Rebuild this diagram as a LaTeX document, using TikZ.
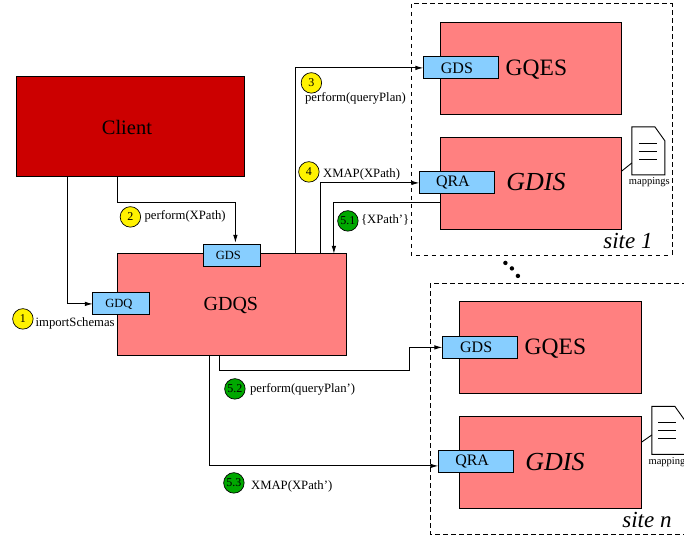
\documentclass[tikz,border=0pt]{standalone}
\usepackage{fontspec}
\setmainfont{Liberation Serif}
\usetikzlibrary{arrows.meta,calc}
\definecolor{clientred}{HTML}{CC0000}
\definecolor{srvred}{HTML}{FF8080}
\definecolor{portblue}{HTML}{87CEFF}
\definecolor{stepgreen}{HTML}{00A800}
\newcommand{\fs}[1]{\fontsize{#1}{#1}\selectfont}
\newcommand{\lft}{\hspace*{-8pt}}
\newcommand{\bd}[1]{\raisebox{-1pt}{#1}}
\tikzset{
  box/.style={draw=black,line width=0.9pt,inner sep=0,outer sep=0,anchor=north west},
  service/.style={box,fill=srvred},
  port/.style={box,fill=portblue,line width=1pt,font=\fs{16}},
  smallport/.style={port,font=\fs{12.5}},
  sitebox/.style={draw=black,line width=0.8pt,dash pattern=on 4.5pt off 3.5pt},
  conn/.style={draw=black,line width=0.9pt},
  arr/.style={conn,-{Latex[length=8pt,width=4.5pt]}},
  badge/.style={circle,draw=black,line width=0.7pt,minimum size=20.5pt,inner sep=0,font=\fs{12}},
  yellowbadge/.style={badge,fill=yellow},
  greenbadge/.style={badge,fill=stepgreen},
  lbl/.style={anchor=west,inner sep=0,font=\fs{12.7}},
  bigtxt/.style={inner sep=0,font=\fs{23.5}},
  bigit/.style={inner sep=0,font=\fs{26}\itshape},
  sitetxt/.style={inner sep=0,font=\fs{23}\itshape},
  doc/.style={draw=black,line width=0.9pt,fill=white},
  docline/.style={draw=black,line width=0.8pt},
}
\newcommand{\rbox}[7]{\node[#1,minimum width=#5pt,minimum height=#6pt] (#2) at (#3,#4) {#7};}
\begin{document}
\begin{tikzpicture}[x=1pt,y=-1pt]
\useasboundingbox (0.1,0.1) rectangle (684.1,535.1);
\begin{scope}
\clip (0.1,0.1) rectangle (684.1,535.1);
% site frames
\draw[sitebox] (411,4) rectangle (672,255);
\draw[sitebox] (430,283.5) rectangle (700,534);
% services
\rbox{box,fill=clientred}{client}{17}{77}{228}{100}{}
\rbox{service}{gdqs}{118}{254}{229}{102}{}
\rbox{service}{gqesa}{441}{23}{181}{92}{}
\rbox{service}{gdisa}{441}{138}{181}{92}{}
\rbox{service}{gqesb}{460}{302}{182}{92}{}
\rbox{service}{gdisb}{460}{417}{182}{92}{}
\node[inner sep=0,font=\fs{20.5}] (clienttxt) at (127,127.5) {Client};
\node[inner sep=0,font=\fs{20}] (gdqstxt) at (231,306) {GDQS};
\node[bigtxt] (gqesatxt) at (536.5,69.5) {GQES};
\node[bigit] (gdisatxt) at (536,182) {GDIS};
\node[bigtxt] (gqesbtxt) at (555.5,348.5) {GQES};
\node[bigit] (gdisbtxt) at (555,462) {GDIS};
% ports
\rbox{smallport}{gds}{204}{245}{57}{22}{\lft GDS}
\rbox{smallport}{gdq}{93}{293}{57}{22}{\hspace*{-5pt}GDQ}
\rbox{port}{gdsa}{423.5}{57}{75}{22}{\lft GDS}
\rbox{port}{qraa}{419.5}{172}{75}{22}{\lft QRA}
\rbox{port}{gdsb}{442.5}{336.5}{75.5}{22}{\lft GDS}
\rbox{port}{qrab}{438.5}{451}{75.5}{22}{\lft QRA}
% connectors
\draw[arr] ($(client.south west)+(51,0)$) |- (gdq.west);
\draw[arr] ($(client.south west)+(101,0)$) -- ++(0,26) -| ($(gds.north west)+(31.5,-2)$);
\draw[arr] ($(gdqs.north west)+(177.5,0)$) |- (gdsa.west);
\draw[arr] ($(gdqs.north west)+(203,0)$) |- (qraa.west);
\draw[arr] ($(gdisa.north west)+(0,65)$) -| ($(gdqs.north west)+(216,0)$);
\draw[arr] ($(gdqs.south west)+(102,0)$) -- ++(0,15) -- ++(190,0) |- (gdsb.west);
\draw[arr] ($(gdqs.south west)+(92,0)$) |- ($(qrab.west)+(0,4)$);
% documents
\draw[doc] (632,127) -- (655,127) -- (665,141) -- (665,175) -- (632,175) -- cycle;
\draw[docline] (639,143) -- (657,143) (639,151) -- (657,151) (639,159) -- (657,159);
\coordinate (docaleft) at (632,163);
\draw[conn] ($(gdisa.north east)+(0,33)$) -- (docaleft);
\draw[doc] (652,406.5) -- (675,406.5) -- (685,420.5) -- (685,454.5) -- (652,454.5) -- cycle;
\draw[docline] (658.5,422.5) -- (676.5,422.5) (658.5,430.5) -- (676.5,430.5) (658.5,438.5) -- (676.5,438.5);
\coordinate (docbleft) at (652,435);
\draw[conn] ($(gdisb.north east)+(0,25)$) -- (docbleft);
\node[inner sep=0,font=\fs{10.5}] (mapa) at (649.5,182.5) {mappings};
\node[inner sep=0,font=\fs{10.5},anchor=west] (mapb) at (648.5,462) {mappings};
% site labels
\node[sitetxt] (sitea) at (628,241) {site 1};
\node[sitetxt] (siteb) at (647,520) {site n};
% ellipsis dots
\fill (505.5,263) circle (2.2pt);
\fill (512,268.5) circle (2.2pt);
\fill (518,276) circle (2.2pt);
% step badges and labels
\node[yellowbadge] (s1) at (23,319) {\bd{1}};
\node[yellowbadge] (s2) at (130.5,217) {\bd{2}};
\node[yellowbadge] (s3) at (311.5,83) {\bd{3}};
\node[yellowbadge] (s4) at (309,172) {\bd{4}};
\node[greenbadge] (s51) at (348,221) {\bd{5.1}};
\node[greenbadge] (s52) at (235,389) {\bd{5.2}};
\node[greenbadge] (s53) at (234,483) {\bd{5.3}};
\node[lbl] (l1) at (35.5,323.5) {importSchemas};
\node[lbl] (l2) at (144.5,216.5) {perform(XPath)};
\node[lbl] (l3) at (305,98.5) {perform(queryPlan)};
\node[lbl] (l4) at (323,175) {XMAP(XPath)};
\node[lbl] (l51) at (361,220.5) {\{XPath’\}};
\node[lbl] (l52) at (250,389.5) {perform(queryPlan’)};
\node[lbl] (l53) at (251,486.5) {XMAP(XPath’)};
\end{scope}
\end{tikzpicture}
\end{document}
